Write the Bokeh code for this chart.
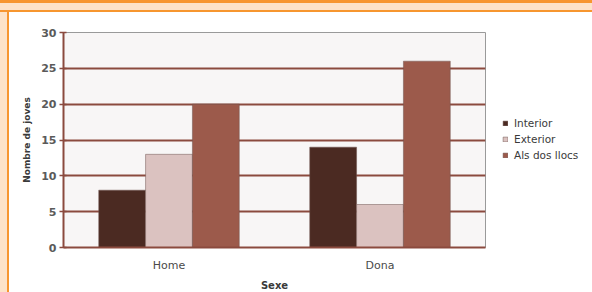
from bokeh.plotting import figure
from bokeh.models import ColumnDataSource, Legend, LegendItem, FixedTicker
from bokeh.transform import dodge
from bokeh.embed import file_html
from bokeh.resources import INLINE

# ---- data ----
sexes = ["Home", "Dona"]
interior = [8, 14]
exterior = [13, 6]
als_dos_llocs = [20, 26]
series_names = ["Interior", "Exterior", "Als dos llocs"]
y_ticks = [0, 5, 10, 15, 20, 25, 30]

colors = ["#4b2a22", "#dbc2c0", "#9c5a4b"]
brown = "#8b4a3e"
FONT = "DejaVu Sans"

src = ColumnDataSource(dict(sexe=sexes, interior=interior,
                            exterior=exterior, als=als_dos_llocs))

p = figure(x_range=sexes, y_range=(0, 30),
           frame_width=422, frame_height=215,
           min_border_left=63, min_border_right=107,
           min_border_top=32, min_border_bottom=45,
           output_backend="svg", toolbar_location=None)

p.background_fill_color = "#f8f6f6"
p.border_fill_alpha = 0
p.outline_line_color = "#9a9a9a"
p.outline_line_width = 1

bw = 0.222
edge = "#6e5550"
r1 = p.vbar(x=dodge("sexe", -bw, range=p.x_range), top="interior", width=bw,
            source=src, fill_color=colors[0], line_color=edge, line_width=0.5)
r2 = p.vbar(x=dodge("sexe", 0, range=p.x_range), top="exterior", width=bw,
            source=src, fill_color=colors[1], line_color=edge, line_width=0.5)
r3 = p.vbar(x=dodge("sexe", bw, range=p.x_range), top="als", width=bw,
            source=src, fill_color=colors[2], line_color=edge, line_width=0.5)

# grid
p.xgrid.grid_line_color = None
p.ygrid.ticker = FixedTicker(ticks=y_ticks[1:-1])
p.ygrid.grid_line_color = brown
p.ygrid.grid_line_width = 2

# y axis
p.yaxis.ticker = FixedTicker(ticks=y_ticks)
p.yaxis.axis_line_color = brown
p.yaxis.axis_line_width = 2
p.yaxis.major_tick_line_color = brown
p.yaxis.major_tick_line_width = 1.5
p.yaxis.major_tick_out = 4
p.yaxis.major_tick_in = 3
p.yaxis.minor_tick_line_color = None
p.yaxis.major_label_standoff = 3
p.yaxis.major_label_text_font = FONT
p.yaxis.major_label_text_font_size = "11px"
p.yaxis.major_label_text_font_style = "bold"
p.yaxis.major_label_text_color = "#5a5a5a"
p.yaxis.axis_label = "Nombre de joves"
p.yaxis.axis_label_text_font = FONT
p.yaxis.axis_label_text_font_size = "9px"
p.yaxis.axis_label_text_font_style = "bold"
p.yaxis.axis_label_text_color = "#3a3a3a"
p.yaxis.axis_label_standoff = 6

# x axis
p.xaxis.axis_line_color = brown
p.xaxis.axis_line_width = 2
p.xaxis.major_tick_line_color = None
p.xaxis.minor_tick_line_color = None
p.xaxis.major_label_standoff = 5
p.xaxis.major_label_text_font = FONT
p.xaxis.major_label_text_font_size = "11px"
p.xaxis.major_label_text_color = "#4a4a4a"
p.xaxis.axis_label = "Sexe"
p.xaxis.axis_label_text_font = FONT
p.xaxis.axis_label_text_font_size = "10px"
p.xaxis.axis_label_text_font_style = "bold"
p.xaxis.axis_label_text_color = "#3a3a3a"
p.xaxis.axis_label_standoff = 5

# legend
legend = Legend(items=[LegendItem(label=series_names[0], renderers=[r1]),
                       LegendItem(label=series_names[1], renderers=[r2]),
                       LegendItem(label=series_names[2], renderers=[r3])],
                location=(17, 86))
legend.glyph_width = 6
legend.glyph_height = 6
legend.label_height = 12
legend.label_standoff = 6
legend.spacing = 4
legend.padding = 0
legend.margin = 0
legend.border_line_color = None
legend.background_fill_alpha = 0
legend.label_text_font = FONT
legend.label_text_font_size = "10.5px"
legend.label_text_color = "#3a3a3a"
p.add_layout(legend, "right")

orange = "#f7962f"
peach = "#fde3c8"
p.styles = {
    "background": (
        f"linear-gradient(to bottom, {orange} 0px, {orange} 3px, {peach} 3px, "
        f"{peach} 10px, {orange} 10px, {orange} 12px, transparent 12px), "
        f"linear-gradient(to right, {peach} 0px, {peach} 7px, {orange} 7px, "
        f"{orange} 9px, white 9px)"
    )
}

open("out.html", "w").write(file_html(p, INLINE))
